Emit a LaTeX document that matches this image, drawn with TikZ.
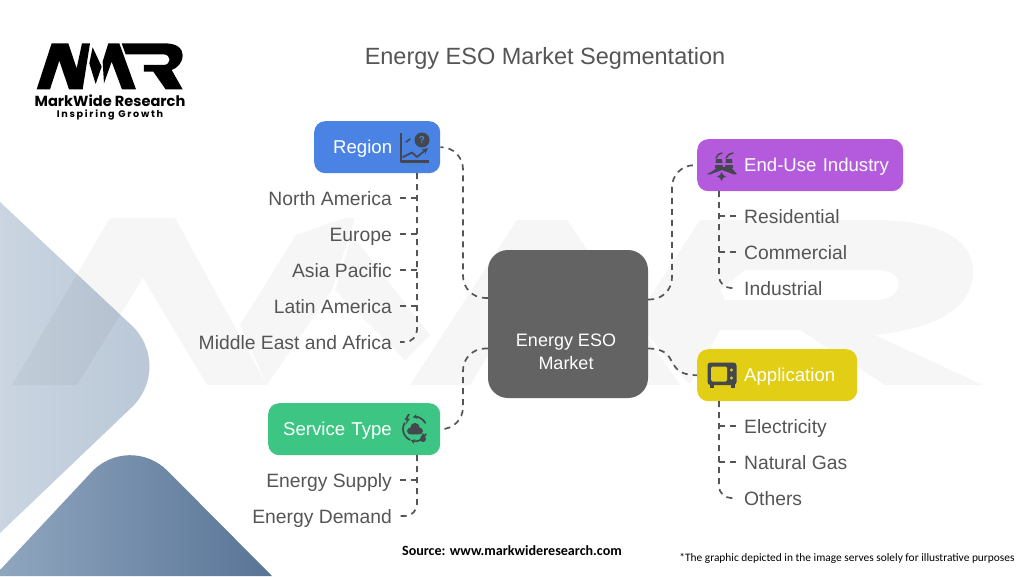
\documentclass[tikz,border=0pt]{standalone}
\usepackage{fontspec}
\usetikzlibrary{arrows.meta}
\setmainfont{Liberation Sans}
\newfontfamily\srcfont{Carlito}
\newfontfamily\logofont{Poppins}[BoldFont={Poppins Bold}]
\definecolor{inkc}{HTML}{555555}
\definecolor{iconc}{HTML}{44474D}
\definecolor{hubc}{HTML}{636363}
\definecolor{bluec}{HTML}{4A83E4}
\definecolor{purplec}{HTML}{B45BDD}
\definecolor{yellowc}{HTML}{E2CE14}
\definecolor{greenc}{HTML}{3DC583}
\definecolor{paleL}{HTML}{CAD5E1}
\definecolor{paleR}{HTML}{B7C5D5}
\definecolor{deepL}{HTML}{90A6BF}
\definecolor{deepR}{HTML}{587496}
\newcommand{\boxfont}{\fontsize{18.6}{24}\selectfont}
\newcommand{\leaffont}{\fontsize{19.3}{24}\selectfont}
\tikzset{
  conn/.style={draw=inkc,line width=1.7pt,dash pattern=on 6pt off 5pt},
  catbox/.style 2 args={rounded corners=11pt,fill=#1,text=white,inner sep=0pt,minimum height=52pt,text width=#2,align=left,font=\boxfont,text height=14pt,text depth=0.5pt,anchor=north west},
  leaf/.style={text=inkc,font=\leaffont,text height=14.5pt,text depth=0.5pt,inner xsep=8pt,inner ysep=0pt},
  leafL/.style={leaf,anchor=east},
  leafR/.style={leaf,anchor=west},
  icon/.style={fill=iconc,draw=none},
  iconline/.style={draw=iconc,line width=2.2pt,line cap=round,line join=round}
}
\begin{document}
\begin{tikzpicture}[x=1pt,y=-1pt]
\useasboundingbox (0,0) rectangle (1024,576);
% background shapes
\path[left color=paleL,right color=paleR]
  (0,202) [rounded corners=60pt] -- (175,366) [sharp corners] -- (0,533) -- cycle;
\path[left color=deepL,right color=deepR]
  (0,570) [rounded corners=55pt] -- (129,432) [sharp corners] -- (272,576) -- (0,576) -- cycle;
% watermark
\begin{scope}[fill=black,fill opacity=0.035]
\fill (12,385) -- (110,218) -- (175,218) -- (267,385) -- (207,385) -- (143,278) -- (77,385) -- cycle;
\fill (267,385) -- (240,325) -- (296,235) -- (345,218) -- (355,218) -- (332,290) -- cycle;
\fill (352,235) -- (430,335) -- (405,360) -- (335,290) -- cycle;
\fill (410,385) -- (517,220) -- (567,220) -- (680,385) -- (615,385) -- (540,270) -- (470,385) -- cycle;
\fill[even odd rule] (700,220) -- (880,220) .. controls (950,222) and (975,245) .. (973,275) .. controls (970,310) and (935,328) .. (875,335) -- (983,385) -- (885,385) -- (800,330) -- (720,330) -- (690,385) -- (635,320) -- cycle
  (745,270) -- (720,290) -- (725,300) -- (880,300) .. controls (905,296) and (905,272) .. (880,270) -- cycle;
\end{scope}
% logo
\begin{scope}[shift={(0pt,-20pt)},x=0.3333pt,y=-0.3333pt,fill=black]
\fill (110,208) -- (155,70) -- (205,70) -- (230,145) -- (246,70) -- (270,70) -- (248,208) -- (207,208) -- (178,122) -- (150,208) -- cycle;
\fill (278,82) -- (305,140) -- (287,192) -- (268,130) -- cycle;
\fill (308,125) -- (325,70) -- (358,70) -- (408,208) -- (366,208) -- (335,125) -- (312,190) -- cycle;
\fill (365,70) -- (495,70) .. controls (530,70) and (548,85) .. (548,105) .. controls (548,130) and (530,145) .. (515,150) -- (548,208) -- (497,208) -- (460,155) -- (432,155) -- (432,135) -- (490,135) .. controls (515,135) and (515,103) .. (490,103) -- (377,103) -- cycle;
\end{scope}
\node[inner sep=0pt,anchor=center] (brand) at (110,101) {\logofont\bfseries\fontsize{14.6}{15}\selectfont MarkWide Research};
\node[inner sep=0pt,anchor=center] (motto) at (110,114.5) {\logofont\bfseries\fontsize{9.6}{10}\selectfont\addfontfeature{LetterSpace=18}Inspiring Growth};
% title
\node[text=inkc,inner sep=0pt] (title) at (545,58) {\fontsize{23.5}{28}\selectfont Energy ESO Market Segmentation};
% hub
\node[fill=hubc,rounded corners=20pt,minimum width=160pt,minimum height=148pt,inner sep=0pt] (hub) at (568,324) {};
\node[text=white,align=center,inner sep=0pt,font=\fontsize{18}{23}\selectfont] (hubtext) at (566,352) {Energy ESO\\Market};
% category boxes
\node[catbox={bluec}{126pt}] (region) at (314,121) {\hspace*{19pt}Region};
\node[catbox={purplec}{206pt}] (enduse) at (697,139) {\hspace*{47pt}End-Use Industry};
\node[catbox={yellowc}{160pt}] (application) at (697,349) {\hspace*{47pt}Application};
\node[catbox={greenc}{172pt}] (service) at (268,403) {\hspace*{15pt}Service Type};
% leaves
\node[leafL] (na) at (400,198) {North America};
\node[leafL] (eu) at (400,234) {Europe};
\node[leafL] (ap) at (400,270) {Asia Pacific};
\node[leafL] (la) at (400,306) {Latin America};
\node[leafL] (me) at (400,342) {Middle East and Africa};
\node[leafR] (res) at (736,216) {Residential};
\node[leafR] (com) at (736,252) {Commercial};
\node[leafR] (ind) at (736,288) {Industrial};
\node[leafR] (ele) at (736,426) {Electricity};
\node[leafR] (gas) at (736,462) {Natural Gas};
\node[leafR] (oth) at (736,498) {Others};
\node[leafL] (sup) at (400,480) {Energy Supply};
\node[leafL] (dem) at (400,516) {Energy Demand};
% trunk and bus coordinates
\coordinate (regT) at (417,173);
\coordinate (useT) at (719,191);
\coordinate (appT) at (719,401);
\coordinate (srvT) at (417,455);
\coordinate (busL) at (463,324);
\coordinate (busR) at (672,324);
% hub connectors
\draw[conn,rounded corners=22pt] (hub.162.6) -- (busL |- hub.162.6) -- (busL |- region.east) -- (region.east);
\draw[conn,rounded corners=22pt] (hub.197.4) -- (busL |- hub.197.4) -- (busL |- service.east) -- (service.east);
\draw[conn,rounded corners=22pt] (hub.17.4) -- (busR |- hub.17.4) -- (busR |- enduse.west) -- (enduse.west);
\draw[conn] (hub.-17.4) .. controls (682,349) and (662,375) .. (application.west);
% leaf connectors
\draw[conn,rounded corners=12pt] (regT) |- (me.east);
\foreach \n in {na,eu,ap,la} \draw[conn] (\n.east) -- (\n.east -| regT);
\draw[conn,rounded corners=12pt] (useT) |- (ind.west);
\foreach \n in {res,com} \draw[conn] (\n.west) -- (\n.west -| useT);
\draw[conn,rounded corners=12pt] (appT) |- (oth.west);
\foreach \n in {ele,gas} \draw[conn] (\n.west) -- (\n.west -| appT);
\draw[conn,rounded corners=12pt] (srvT) |- (dem.east);
\draw[conn] (sup.east) -- (sup.east -| srvT);
% region icon
\draw[iconline,line cap=butt] (401,133) -- (401,161.5) -- (428.5,161.5);
\draw[iconline,line width=1.6pt] (406,142) -- (410,139);
\draw[iconline,line width=1.8pt,-{Stealth[length=6pt,width=6pt]}] (403,157) -- (412,152.5) -- (417,157) -- (428,148);
\fill[iconc] (422,140) circle[radius=7.5pt];
\node[text=bluec,inner sep=0pt,font=\bfseries\fontsize{10}{10}\selectfont] (qmark) at (422,140) {?};
% end-use icon
\draw[iconline,line width=1.5pt] (716,158) .. controls (717,155) and (719,153.5) .. (722,153);
\draw[iconline,line width=1.5pt] (726,158) .. controls (727,155) and (730,153.5) .. (733,153);
\fill[icon] (716,159) -- (722,159) -- (723,168) -- (715,168) -- cycle;
\fill[icon] (726,159) -- (732,159) -- (733,168) -- (725,168) -- cycle;
\fill[purplec] (714,163) rectangle (734,164.5);
\fill[icon] (707,174) .. controls (714,171) and (716,168) .. (718,167) -- (730,167) .. controls (732,168) and (734,171) .. (737,174) -- (734,174.5) -- (722,170) -- (710,174.5) -- cycle;
\fill[icon] (721.5,172) -- (723,175) -- (726,176.5) -- (723,178) -- (721.5,181) -- (720,178) -- (717,176.5) -- (720,175) -- cycle;
% application icon
\fill[icon,rounded corners=3pt] (707.5,362.5) rectangle (736.5,385);
\fill[icon] (709.5,384) rectangle (713.5,388);
\fill[icon] (730.5,384) rectangle (734.5,388);
\fill[yellowc,rounded corners=1.5pt] (711,366.5) rectangle (727,381.5);
\fill[yellowc] (731.5,370) circle[radius=1.7pt] (731.5,378) circle[radius=1.7pt];
% service icon
\draw[iconline,line width=1.7pt,-{Stealth[length=4pt,width=5pt]}] ([shift=(30:12pt)]415,429) arc[start angle=30,end angle=100,radius=12pt];
\draw[iconline,line width=1.7pt] ([shift=(150:12pt)]415,429) arc[start angle=150,end angle=245,radius=12pt];
\draw[iconline,line width=1.7pt,-{Stealth[length=4pt,width=5pt]}] ([shift=(-25:12pt)]415,429) arc[start angle=-25,end angle=-110,radius=12pt];
\fill[icon] (410.5,431) circle[radius=3.4pt] (415,427.5) circle[radius=4.6pt] (419.5,431) circle[radius=3.4pt] (410.5,431) rectangle (419.5,434.4);
\fill[icon] (423,433) .. controls (424,436) and (426,437) .. (426,439) .. controls (426,443) and (420,443) .. (420,439) .. controls (420,437) and (422,436) .. (423,433) -- cycle;
\fill[icon] (408,414) -- (404.5,420) -- (407,420) -- (405.5,425) -- (410,418.5) -- (407.5,418.5) -- (410,414) -- cycle;
% footer
\node[inner sep=0pt] (source) at (512,551) {\srcfont\bfseries\fontsize{14.1}{16}\selectfont Source: www.markwideresearch.com};
\node[inner sep=0pt] (note) at (847,558) {\srcfont\fontsize{11.4}{13}\selectfont *The graphic depicted in the image serves solely for illustrative purposes};
\end{tikzpicture}
\end{document}
